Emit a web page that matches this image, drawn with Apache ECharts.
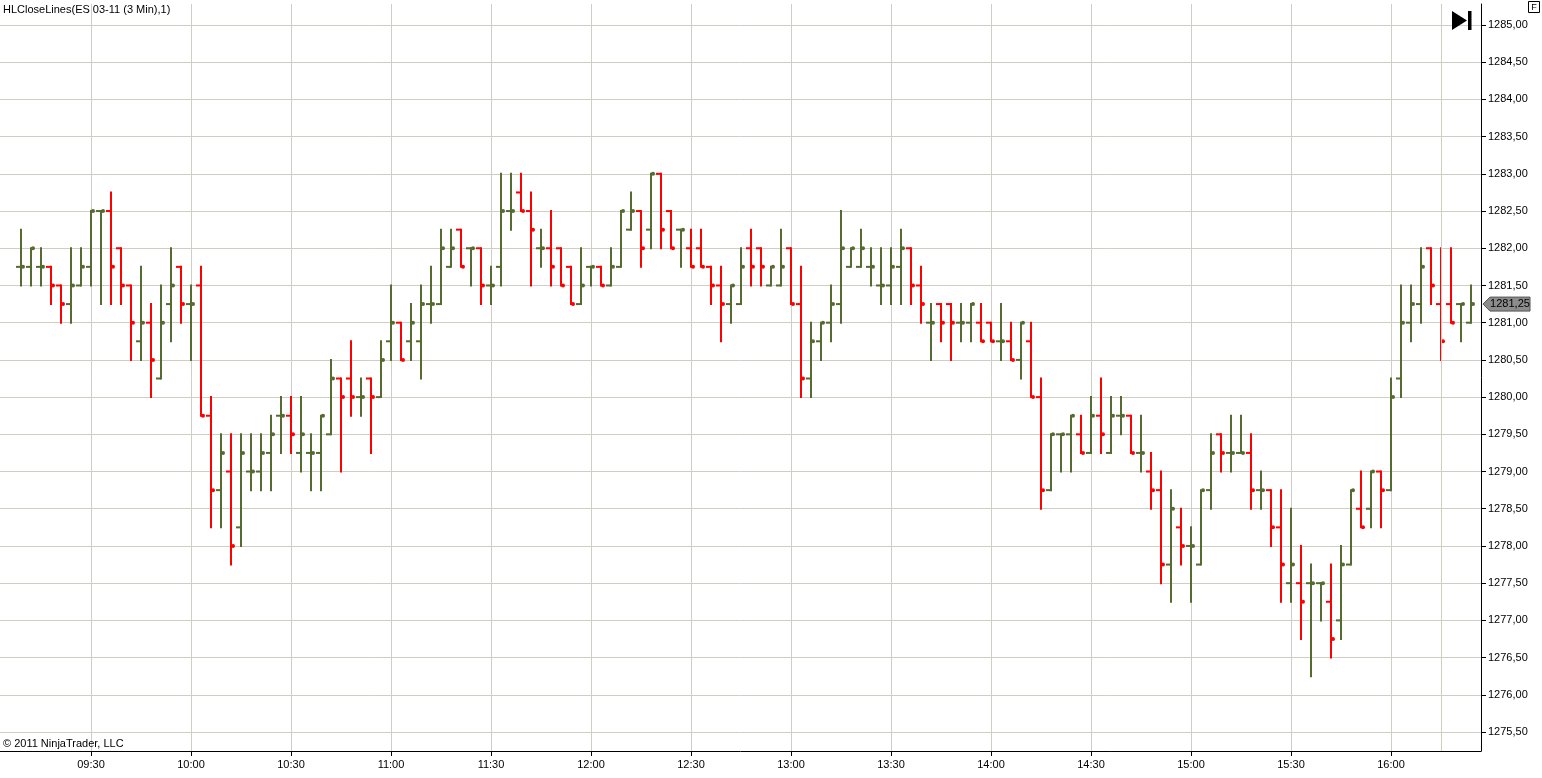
<!DOCTYPE html>
<html>
<head>
<meta charset="utf-8">
<title>HLCloseLines</title>
<script src="https://cdn.jsdelivr.net/npm/echarts@6/dist/echarts.min.js"></script>
<style>
  html, body { margin: 0; padding: 0; background: #fff; }
  #main { width: 1542px; height: 778px; }
</style>
</head>
<body>
<div id="main"></div>
<script>
// 3 min bars, index 0 = first bar on the left
var opens = [
  1281.75, 1281.75, 1281.75, 1281.75, 1281.5, 1281.25, 1281.5, 1281.75, 1282.5, 1282.5,
  1282.0, 1281.5, 1280.75, 1281.0, 1280.25, 1281.25, 1281.75, 1281.25, 1281.5, 1279.75,
  1278.75, 1279.0, 1278.25, 1279.0, 1279.0, 1279.25, 1279.75, 1279.75, 1279.25, 1279.25,
  1279.25, 1279.5, 1280.25, 1280.25, 1280.0, 1280.25, 1280.0, 1280.75, 1281.0, 1280.75,
  1280.75, 1281.25, 1281.25, 1281.75, 1282.25, 1282.0, 1282.0, 1281.5, 1281.75, 1282.5,
  1282.75, 1282.5, 1282.0, 1282.0, 1282.0, 1281.75, 1281.25, 1281.75, 1281.75, 1281.5,
  1281.75, 1282.25, 1282.5, 1282.25, 1283.0, 1282.5, 1282.25, 1282.0, 1282.0, 1281.75,
  1281.5, 1281.25, 1281.25, 1282.0, 1282.0, 1281.5, 1281.5, 1282.0, 1281.25, 1280.25,
  1280.75, 1281.0, 1281.25, 1281.75, 1281.75, 1281.75, 1281.5, 1281.5, 1281.75, 1282.0,
  1281.5, 1281.0, 1281.25, 1281.25, 1281.0, 1281.0, 1281.0, 1281.0, 1280.75, 1280.75,
  1280.5, 1280.75, 1280.0, 1278.75, 1279.5, 1279.5, 1279.5, 1279.25, 1279.75, 1279.25,
  1279.75, 1279.75, 1279.25, 1279.0, 1278.75, 1277.75, 1278.25, 1278.0, 1277.75, 1278.75,
  1279.5, 1279.25, 1279.25, 1279.25, 1278.75, 1278.75, 1278.25, 1277.5, 1277.5, 1277.5,
  1277.5, 1277.25, 1277.0, 1277.75, 1278.5, 1278.5, 1279.0, 1278.75, 1280.25, 1281.0,
  1281.25, 1282.0, 1281.25, 1281.25, 1281.25, 1281.0
];
var highs = [
  1282.25, 1282.0, 1282.0, 1281.75, 1281.5, 1282.0, 1282.0, 1282.5, 1282.5, 1282.75,
  1282.0, 1281.5, 1281.75, 1281.25, 1281.5, 1282.0, 1281.75, 1281.5, 1281.75, 1280.0,
  1279.5, 1279.5, 1279.5, 1279.5, 1279.5, 1279.75, 1280.0, 1280.0, 1280.0, 1279.5,
  1279.75, 1280.5, 1280.25, 1280.75, 1280.25, 1280.25, 1280.75, 1281.5, 1281.0, 1281.25,
  1281.5, 1281.75, 1282.25, 1282.25, 1282.25, 1282.0, 1282.0, 1281.75, 1283.0, 1283.0,
  1283.0, 1282.75, 1282.25, 1282.5, 1282.0, 1281.75, 1282.0, 1281.75, 1281.75, 1282.0,
  1282.5, 1282.75, 1282.5, 1283.0, 1283.0, 1282.5, 1282.25, 1282.25, 1282.25, 1281.75,
  1281.75, 1281.5, 1282.0, 1282.25, 1282.0, 1281.75, 1282.25, 1282.0, 1281.75, 1281.0,
  1281.0, 1281.5, 1282.5, 1282.0, 1282.25, 1282.0, 1282.0, 1282.0, 1282.25, 1282.0,
  1281.75, 1281.25, 1281.25, 1281.25, 1281.25, 1281.25, 1281.25, 1281.0, 1281.25, 1281.0,
  1281.0, 1281.0, 1280.25, 1279.5, 1279.5, 1279.75, 1279.75, 1280.0, 1280.25, 1280.0,
  1280.0, 1279.75, 1279.75, 1279.25, 1279.0, 1278.75, 1278.5, 1278.25, 1278.75, 1279.5,
  1279.5, 1279.75, 1279.75, 1279.5, 1279.0, 1278.75, 1278.75, 1278.5, 1278.0, 1277.75,
  1277.5, 1277.75, 1278.0, 1278.75, 1279.0, 1279.0, 1279.0, 1280.25, 1281.5, 1281.5,
  1282.0, 1282.0, 1282.0, 1282.0, 1281.25, 1281.5
];
var lows = [
  1281.5, 1281.5, 1281.5, 1281.25, 1281.0, 1281.0, 1281.5, 1281.5, 1281.25, 1281.25,
  1281.25, 1280.5, 1280.5, 1280.0, 1280.25, 1280.75, 1281.0, 1280.5, 1279.75, 1278.25,
  1278.25, 1277.75, 1278.0, 1278.75, 1278.75, 1278.75, 1279.25, 1279.25, 1279.0, 1278.75,
  1278.75, 1279.5, 1279.0, 1279.75, 1279.75, 1279.25, 1280.0, 1280.5, 1280.5, 1280.5,
  1280.25, 1281.0, 1281.25, 1281.75, 1281.75, 1281.5, 1281.25, 1281.25, 1281.5, 1282.25,
  1282.5, 1281.5, 1281.75, 1281.5, 1281.5, 1281.25, 1281.25, 1281.5, 1281.5, 1281.5,
  1281.75, 1282.25, 1281.75, 1282.0, 1282.0, 1282.0, 1281.75, 1281.75, 1281.75, 1281.25,
  1280.75, 1281.0, 1281.25, 1281.5, 1281.5, 1281.5, 1281.5, 1281.25, 1280.0, 1280.0,
  1280.5, 1280.75, 1281.0, 1281.75, 1281.75, 1281.5, 1281.25, 1281.25, 1281.25, 1281.25,
  1281.0, 1280.5, 1280.75, 1280.5, 1280.75, 1280.75, 1280.75, 1280.75, 1280.5, 1280.5,
  1280.25, 1280.0, 1278.5, 1278.75, 1279.0, 1279.0, 1279.25, 1279.25, 1279.25, 1279.25,
  1279.5, 1279.25, 1279.0, 1278.5, 1277.5, 1277.25, 1277.75, 1277.25, 1277.75, 1278.5,
  1279.0, 1279.0, 1279.25, 1278.5, 1278.5, 1278.0, 1277.25, 1277.25, 1276.75, 1276.25,
  1277.0, 1276.5, 1276.75, 1277.75, 1278.25, 1278.25, 1278.25, 1278.75, 1280.0, 1280.75,
  1281.0, 1281.25, 1280.5, 1281.0, 1280.75, 1281.0
];
var closes = [
  1281.75, 1282.0, 1281.75, 1281.5, 1281.25, 1281.5, 1281.75, 1282.5, 1282.5, 1281.75,
  1281.5, 1281.0, 1281.0, 1280.5, 1281.0, 1281.5, 1281.25, 1281.25, 1279.75, 1278.75,
  1279.25, 1278.0, 1279.25, 1279.0, 1279.25, 1279.5, 1279.75, 1279.5, 1279.5, 1279.25,
  1279.75, 1280.25, 1280.0, 1280.0, 1280.0, 1280.0, 1280.5, 1281.0, 1280.5, 1281.0,
  1281.25, 1281.25, 1282.0, 1282.0, 1281.75, 1282.0, 1281.5, 1281.5, 1282.5, 1282.5,
  1282.5, 1282.25, 1282.0, 1281.75, 1281.5, 1281.25, 1281.5, 1281.75, 1281.5, 1281.75,
  1282.5, 1282.5, 1282.0, 1283.0, 1282.25, 1282.0, 1282.25, 1281.75, 1281.75, 1281.5,
  1281.25, 1281.5, 1281.75, 1281.75, 1281.75, 1281.75, 1281.75, 1281.25, 1280.25, 1280.75,
  1281.0, 1281.25, 1282.0, 1282.0, 1282.0, 1281.75, 1281.5, 1281.75, 1282.0, 1281.5,
  1281.25, 1281.0, 1281.0, 1281.0, 1281.0, 1281.25, 1280.75, 1280.75, 1280.75, 1280.5,
  1281.0, 1280.0, 1278.75, 1279.5, 1279.5, 1279.75, 1279.25, 1279.75, 1279.5, 1279.75,
  1279.75, 1279.25, 1279.25, 1278.75, 1277.75, 1278.5, 1278.0, 1278.0, 1278.75, 1279.25,
  1279.25, 1279.25, 1279.25, 1278.75, 1278.75, 1278.25, 1277.75, 1277.75, 1277.25, 1277.5,
  1277.5, 1276.75, 1277.75, 1278.75, 1278.25, 1279.0, 1278.75, 1280.0, 1281.0, 1281.25,
  1281.75, 1281.5, 1280.75, 1281.0, 1281.25, 1281.25
];

// x axis labels sit on these bar indexes
var timeTickBars = [7, 17, 27, 37, 47, 57, 67, 77, 87, 97, 107, 117, 127, 137];
var timeLabels = ['09:30', '10:00', '10:30', '11:00', '11:30', '12:00', '12:30',
  '13:00', '13:30', '14:00', '14:30', '15:00', '15:30', '16:00'];
var sessionEndBar = 142;

var priceTicks = [];
for (var p = 1275.5; p <= 1285; p += 0.5) {
  priceTicks.push(p);
}

var upColor = '#556b2f';
var downColor = '#ff0000';
var gridColor = '#cfcdc4';

var barData = opens.map(function (o, i) {
  return [i, o, highs[i], lows[i], closes[i]];
});
var lastIdx = closes.length - 1;
var lastClose = closes[lastIdx];

function fmtPrice(v) {
  return v.toFixed(2).replace('.', ',');
}

function renderBar(params, api) {
  var i = api.value(0);
  var o = api.value(1), h = api.value(2), l = api.value(3), c = api.value(4);
  var color = c >= o ? upColor : downColor;
  var x = api.coord([i, h])[0];
  var yH = api.coord([i, h])[1];
  var yL = api.coord([i, l])[1];
  var yO = api.coord([i, o])[1];
  var yC = api.coord([i, c])[1];
  return {
    type: 'group',
    children: [
      { type: 'line', shape: { x1: x, y1: yH - 1, x2: x, y2: yL + 1 }, style: { stroke: color, lineWidth: 2 } },
      { type: 'line', shape: { x1: x - 5, y1: yO, x2: x, y2: yO }, style: { stroke: color, lineWidth: 2 } },
      { type: 'circle', shape: { cx: x + 2, cy: yC, r: 2 }, style: { fill: color } }
    ]
  };
}

// gray price marker on the axis for the last close
function renderLastPrice(params, api) {
  var y = api.coord([api.value(0), api.value(1)])[1];
  var xr = params.coordSys.x + params.coordSys.width;
  return {
    type: 'group',
    children: [
      {
        type: 'polygon',
        shape: { points: [[xr + 2, y], [xr + 9, y - 7], [xr + 49, y - 7], [xr + 49, y + 7], [xr + 9, y + 7]] },
        style: { fill: '#8c8c8c', stroke: '#555', lineWidth: 1 }
      },
      {
        type: 'text',
        style: {
          x: xr + 29, y: y, text: fmtPrice(api.value(1)),
          align: 'center', verticalAlign: 'middle',
          font: '11px "Liberation Sans", Arial, sans-serif', fill: '#000'
        }
      }
    ]
  };
}

var chart = echarts.init(document.getElementById('main'));

var option = {
  backgroundColor: '#fff',
  animation: false,
  textStyle: { fontFamily: '"Liberation Sans", Arial, sans-serif' },
  grid: { left: 0, right: 61, top: 4, bottom: 27, containLabel: false },
  xAxis: {
    type: 'value',
    min: -2.1,
    max: 146,
    axisLine: { show: true, onZero: false, lineStyle: { color: '#000', width: 1 } },
    axisTick: { show: true, inside: false, length: 5, lineStyle: { color: '#000' }, customValues: timeTickBars },
    axisLabel: {
      customValues: timeTickBars,
      color: '#000', fontSize: 11, margin: 8,
      formatter: function (v) {
        var k = timeTickBars.indexOf(Math.round(v));
        return k >= 0 ? timeLabels[k] : '';
      }
    },
    splitLine: { show: true, lineStyle: { color: gridColor, width: 1 } }
  },
  yAxis: {
    type: 'value',
    position: 'right',
    min: 1275.245,
    max: 1285.282,
    axisLine: { show: true, onZero: false, lineStyle: { color: '#000', width: 1 } },
    axisTick: { show: true, inside: false, length: 5, lineStyle: { color: '#000' }, customValues: priceTicks },
    axisLabel: {
      customValues: priceTicks,
      color: '#000', fontSize: 11, margin: 7,
      formatter: fmtPrice
    },
    splitLine: { show: true, lineStyle: { color: gridColor, width: 1 } }
  },
  graphic: [
    {
      type: 'text', left: 3, top: 4, z: 100,
      style: { text: 'HLCloseLines(ES 03-11 (3 Min),1)', font: '11px "Liberation Sans", Arial, sans-serif', fill: '#000' }
    },
    {
      type: 'text', left: 3, top: 738, z: 100,
      style: { text: '\u00a9 2011 NinjaTrader, LLC', font: '11px "Liberation Sans", Arial, sans-serif', fill: '#000' }
    },
    // scroll-to-end button
    { type: 'polygon', z: 100, shape: { points: [[1452, 11], [1467, 20.5], [1452, 30]] }, style: { fill: '#000' } },
    { type: 'rect', z: 100, shape: { x: 1468, y: 11, width: 3.5, height: 19 }, style: { fill: '#000' } },
    // "F" box
    { type: 'rect', z: 100, shape: { x: 1528.5, y: 1.5, width: 11, height: 11 }, style: { fill: '#fff', stroke: '#000', lineWidth: 1 } },
    {
      type: 'text', x: 1534, y: 7.5, z: 101,
      style: { text: 'F', font: '9px "Liberation Sans", Arial, sans-serif', fill: '#000', align: 'center', verticalAlign: 'middle' }
    }
  ],
  series: [
    {
      type: 'custom',
      name: 'ES 03-11',
      renderItem: renderBar,
      encode: { x: 0, y: [1, 2, 3, 4] },
      data: barData,
      markLine: {
        silent: true,
        symbol: 'none',
        label: { show: false },
        lineStyle: { color: gridColor, width: 1, type: 'solid' },
        data: [{ xAxis: sessionEndBar }]
      },
      z: 3
    },
    {
      type: 'custom',
      name: 'last',
      renderItem: renderLastPrice,
      clip: false,
      encode: { x: 0, y: 1 },
      data: [[lastIdx, lastClose]],
      z: 5
    }
  ]
};

chart.setOption(option);
</script>
</body>
</html>
